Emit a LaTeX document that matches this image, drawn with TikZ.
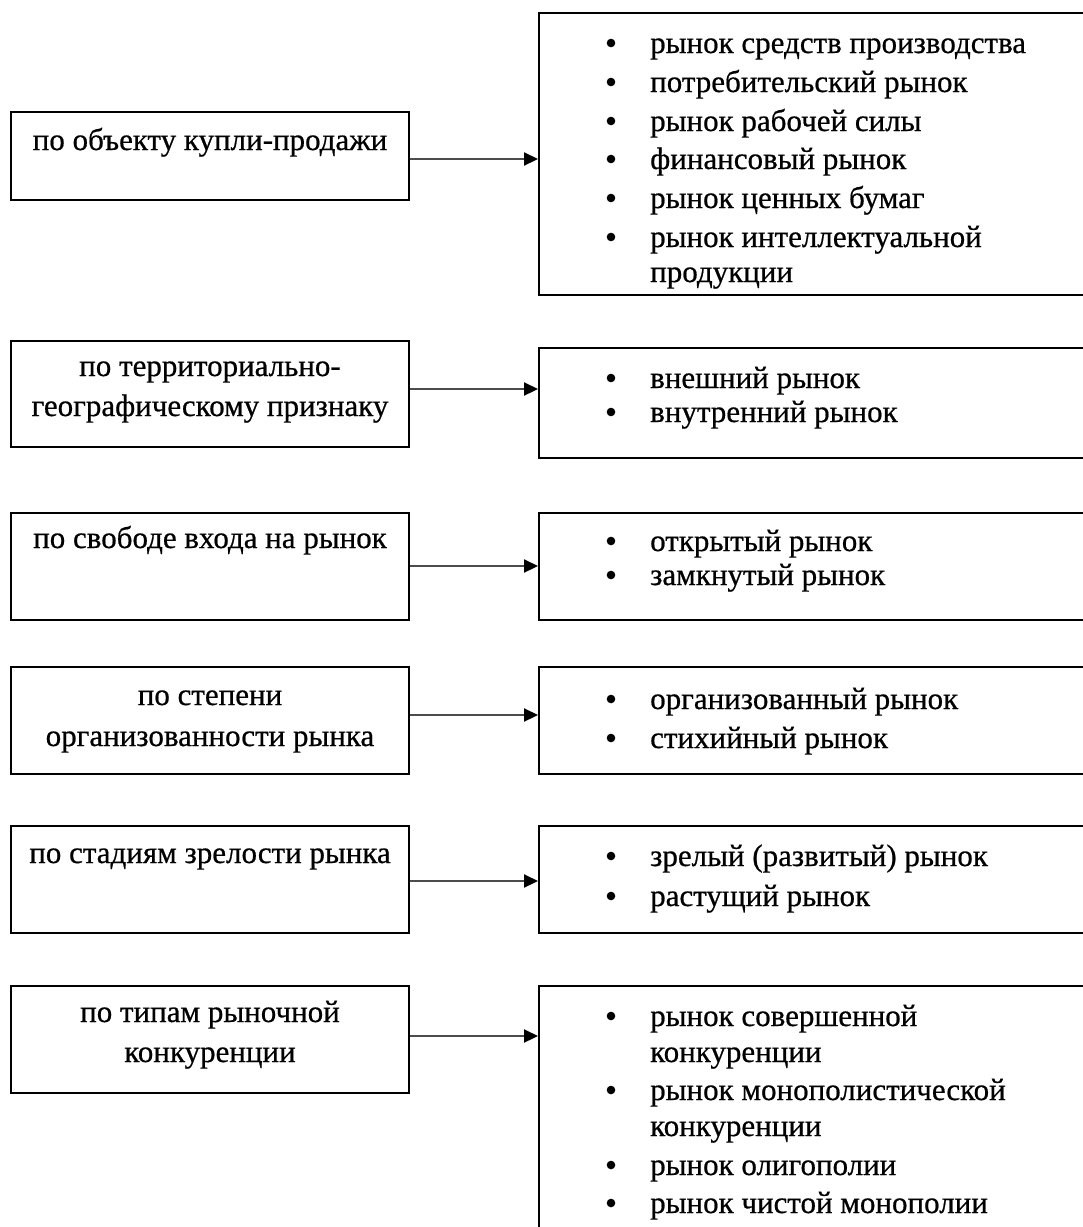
\documentclass[tikz,border=0pt]{standalone}
\usepackage{fontspec}
\setmainfont{Liberation Serif}[FakeBold=0.6]
\usetikzlibrary{arrows.meta}
\tikzset{
  box/.style={draw=black, line width=2pt, rectangle, inner sep=0pt},
  lbox/.style={box, minimum width=398pt},
  rbox/.style={box, minimum width=556pt},
  ltxt/.style={anchor=base, inner sep=0pt, font=\fontsize{31}{36}\selectfont},
  rtxt/.style={anchor=base west, inner sep=0pt, font=\fontsize{31}{36}\selectfont},
  arr/.style={line width=2.2pt, draw=black!70, -{Triangle[length=14pt,width=13pt,color=black,fill=black]}},
}
\newcommand{\blt}[1]{\fill (611pt,{-(#1-10)*1pt}) circle (4.3pt);}
\begin{document}
\begin{tikzpicture}[x=1pt,y=1pt]
\useasboundingbox (0,0) rectangle (1083,-1227);
\clip (0,0) rectangle (1083,-1227);
% left boxes
\node[lbox, minimum height=88pt] (l1) at (210,-156) {};
\node[lbox, minimum height=106pt] (l2) at (210,-394) {};
\node[lbox, minimum height=107pt] (l3) at (210,-566.5) {};
\node[lbox, minimum height=107pt] (l4) at (210,-720.5) {};
\node[lbox, minimum height=107pt] (l5) at (210,-879.5) {};
\node[lbox, minimum height=107pt] (l6) at (210,-1039.5) {};
% right boxes
\node[rbox, minimum height=282pt] (r1) at (817,-154) {};
\node[rbox, minimum height=110pt] (r2) at (817,-403) {};
\node[rbox, minimum height=107pt] (r3) at (817,-566.5) {};
\node[rbox, minimum height=107pt] (r4) at (817,-720.5) {};
\node[rbox, minimum height=107pt] (r5) at (817,-879.5) {};
\node[rbox, minimum height=254pt] (r6) at (817,-1113) {};
% left texts
\node[ltxt] (t1) at (210,-150) {по объекту купли-продажи};
\node[ltxt] (t2a) at (210,-376) {по территориально-};
\node[ltxt] (t2b) at (210,-416) {географическому признаку};
\node[ltxt] (t3) at (210,-548) {по свободе входа на рынок};
\node[ltxt] (t4a) at (210,-705) {по степени};
\node[ltxt] (t4b) at (210,-746) {организованности рынка};
\node[ltxt] (t5) at (210,-863) {по стадиям зрелости рынка};
\node[ltxt] (t6a) at (210,-1022) {по типам рыночной};
\node[ltxt] (t6b) at (210,-1062) {конкуренции};
% arrows
\coordinate (y1) at (0,-159);
\coordinate (y2) at (0,-389);
\coordinate (y3) at (0,-566);
\coordinate (y4) at (0,-715);
\coordinate (y5) at (0,-881);
\coordinate (y6) at (0,-1036);
\draw[arr] (l1.east |- y1) -- (r1.west |- y1);
\draw[arr] (l2.east |- y2) -- (r2.west |- y2);
\draw[arr] (l3.east |- y3) -- (r3.west |- y3);
\draw[arr] (l4.east |- y4) -- (r4.west |- y4);
\draw[arr] (l5.east |- y5) -- (r5.west |- y5);
\draw[arr] (l6.east |- y6) -- (r6.west |- y6);
% right lists
\blt{53}\node[rtxt] (s1a) at (650,-53) {рынок средств производства};
\blt{92}\node[rtxt] (s1b) at (650,-92) {потребительский рынок};
\blt{131}\node[rtxt] (s1c) at (650,-131) {рынок рабочей силы};
\blt{169}\node[rtxt] (s1d) at (650,-169) {финансовый рынок};
\blt{208}\node[rtxt] (s1e) at (650,-208) {рынок ценных бумаг};
\blt{247}\node[rtxt] (s1f) at (650,-247) {рынок интеллектуальной};
\node[rtxt] (s1g) at (650,-282) {продукции};
\blt{388}\node[rtxt] (s2a) at (650,-388) {внешний рынок};
\blt{422}\node[rtxt] (s2b) at (650,-422) {внутренний рынок};
\blt{551}\node[rtxt] (s3a) at (650,-551) {открытый рынок};
\blt{585}\node[rtxt] (s3b) at (650,-585) {замкнутый рынок};
\blt{709}\node[rtxt] (s4a) at (650,-709) {организованный рынок};
\blt{748}\node[rtxt] (s4b) at (650,-748) {стихийный рынок};
\blt{866}\node[rtxt] (s5a) at (650,-866) {зрелый (развитый) рынок};
\blt{906}\node[rtxt] (s5b) at (650,-906) {растущий рынок};
\blt{1026}\node[rtxt] (s6a) at (650,-1026) {рынок совершенной};
\node[rtxt] (s6b) at (650,-1062) {конкуренции};
\blt{1100}\node[rtxt] (s6c) at (650,-1100) {рынок монополистической};
\node[rtxt] (s6d) at (650,-1136) {конкуренции};
\blt{1175}\node[rtxt] (s6e) at (650,-1175) {рынок олигополии};
\blt{1213}\node[rtxt] (s6f) at (650,-1213) {рынок чистой монополии};
\end{tikzpicture}
\end{document}
